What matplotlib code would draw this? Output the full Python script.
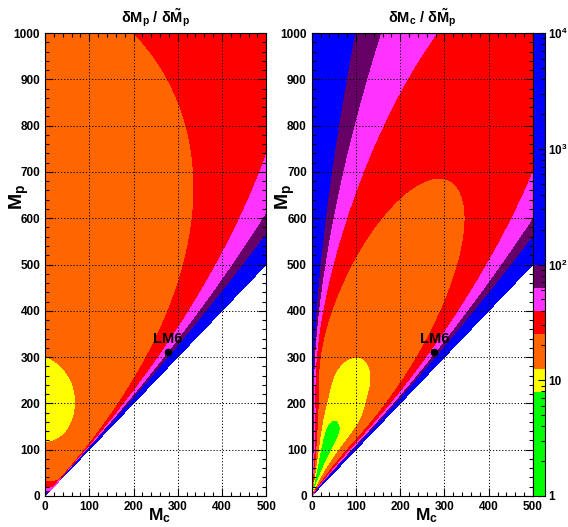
import numpy as np
import matplotlib
matplotlib.use("Agg")
import matplotlib.pyplot as plt
from matplotlib.ticker import MultipleLocator, LogLocator, NullFormatter, FixedLocator

plt.rcParams["font.family"] = ["Liberation Sans", "DejaVu Sans"]
plt.rcParams["font.weight"] = "bold"
plt.rcParams["mathtext.fontset"] = "custom"
plt.rcParams["mathtext.rm"] = "Liberation Sans:bold"
plt.rcParams["mathtext.bf"] = "Liberation Sans:bold"
plt.rcParams["mathtext.it"] = "Liberation Sans:bold"

# colour bands
levels = [1, 7.9, 12.6, 25, 40, 63, 100, 1e4]
band_colors = ["#00ff00", "#ffff00", "#ff6600", "#ff0000", "#ff33ff", "#660066", "#0000ff"]

mc_range = [0, 500]
mp_range = [0, 1000]
lm6 = [277, 311]      # (Mc, Mp) of the LM6 point
titles = [r"$\delta\mathbf{M}_\mathbf{p}$ / $\delta\tilde{\mathbf{M}}_\mathbf{p}$",
          r"$\delta\mathbf{M}_\mathbf{c}$ / $\delta\tilde{\mathbf{M}}_\mathbf{p}$"]
cb_ticks = [1, 10, 100, 1000, 10000]
cb_labels = ["1", "10", r"$10^2$", r"$10^3$", r"$10^4$"]

# shape of the error ratios, tuned by eye to the drawn contours (w = Mc / (Mp - Mc))
# left:  a/Mp + b + c*Mp  +  k*Mp**q * w**p
left_base = [586.8, 5.55, 0.01695]
left_diag = [0.0029, 1.2, 1.3]
# right: b + c*Mp - dip*exp(-(Mp/s)**n)  + diagonal, knee, edge and wall terms
right_base = [6.4, 0.0136, 4.0, 175.0, 6.0]
right_diag = [0.002676, 1.2, 1.3]            # k*Mp**q * w**p
right_knee = [13.9, 125.5, 1.5, 0.8]         # k*exp(-(Mp/s)**2) * w**a / (1+w)**b
right_edge = [1.704, 0.3, 900.0, 1.2]        # k*Mp**q*exp(-s/Mp) * w**-p
right_wall = [64.0, 220.0, 0.085, 0.015]     # k*exp(-(Mp/s)**3)*exp(-w/w1)*(1+w2/w)


def ratio_left(mc, mp):
    with np.errstate(divide="ignore", invalid="ignore"):
        w = mc / (mp - mc)
        a, b, c = left_base
        k, q, p = left_diag
        val = a / mp + b + c * mp + k * mp ** q * w ** p
    return np.where(mc < mp, np.clip(val, 1.0, 9999.0), np.nan)


def ratio_right(mc, mp):
    with np.errstate(divide="ignore", invalid="ignore", over="ignore"):
        w = mc / (mp - mc)
        b, c, dip, s, n = right_base
        val = b + c * mp - dip * np.exp(-(mp / s) ** n)
        k, q, p = right_diag
        val = val + k * mp ** q * w ** p
        k, s, a, e = right_knee
        val = val + k * np.exp(-(mp / s) ** 2) * w ** a / (1 + w) ** e
        k, q, s, p = right_edge
        val = val + k * mp ** q * np.exp(-s / mp) * w ** (-p)
        k, s, w1, w2 = right_wall
        val = val + k * np.exp(-(mp / s) ** 3) * np.exp(-w / w1) * (1 + w2 / w)
    return np.where(mc < mp, np.clip(val, 1.0, 9999.0), np.nan)


mc = np.linspace(0.25, 500, 800)
mp = np.linspace(0.25, 1000, 1600)
MC, MP = np.meshgrid(mc, mp)

W, H = 568, 527
fig = plt.figure(figsize=(W / 100, H / 100), dpi=100)
panels = [
    (45, ratio_left(MC, MP), titles[0]),
    (311.7, ratio_right(MC, MP), titles[1]),
]
ax_w, ax_top, ax_bot = 221.3, 33, 496

for x0, Z, title in panels:
    ax = fig.add_axes([x0 / W, 1 - ax_bot / H, ax_w / W, (ax_bot - ax_top) / H])
    ax.contourf(MC, MP, Z, levels=levels, colors=band_colors)
    ax.set_xlim(mc_range)
    ax.set_ylim(mp_range)
    ax.xaxis.set_major_locator(MultipleLocator(100))
    ax.xaxis.set_minor_locator(MultipleLocator(20))
    ax.yaxis.set_major_locator(MultipleLocator(100))
    ax.yaxis.set_minor_locator(MultipleLocator(20))
    ax.tick_params(which="both", direction="in", top=True, right=True, labelsize=8.5)
    ax.tick_params(which="major", length=6, width=0.8)
    ax.tick_params(which="minor", length=3, width=0.8)
    ax.set_axisbelow(False)
    ax.grid(True, which="major", color="black", linestyle=(0, (1.2, 2)), linewidth=0.7)
    for sp in ax.spines.values():
        sp.set_linewidth(0.8)
    ax.plot(lm6[0], lm6[1], "o", color="black", ms=4.5, zorder=5)
    ax.text(lm6[0], lm6[1] + 14, "LM6", ha="center", va="bottom", fontsize=10.5,
            fontweight="bold", zorder=5)
    fig.text((x0 + ax_w / 2) / W, 1 - 18 / H, title, ha="center", va="center", fontsize=10.5)
    fig.text((x0 + ax_w / 2 + 4) / W, 1 - 506 / H, r"$\mathbf{M}_\mathbf{c}$",
             ha="center", va="top", fontsize=12.5)
    fig.text((x0 - 26) / W, 1 - 197 / H, r"$\mathbf{M}_\mathbf{p}$",
             ha="center", va="center", rotation=90, fontsize=14)

# palette
cax = fig.add_axes([533 / W, 1 - ax_bot / H, 12 / W, (ax_bot - ax_top) / H])
cax.set_yscale("log")
cax.set_ylim(levels[0], levels[-1])
cax.set_xlim(0, 1)
for lo, hi, c in zip(levels[:-1], levels[1:], band_colors):
    cax.bar(0.5, hi - lo, bottom=lo, width=1.0, color=c, linewidth=0)
cax.set_xticks([])
cax.yaxis.tick_right()
cax.yaxis.set_major_locator(FixedLocator(cb_ticks))
cax.set_yticklabels(cb_labels)
cax.yaxis.set_minor_locator(LogLocator(base=10, subs=np.arange(2, 10)))
cax.yaxis.set_minor_formatter(NullFormatter())
cax.tick_params(which="both", direction="in", labelsize=8.5, pad=2)
cax.tick_params(which="major", length=5, width=0.8)
cax.tick_params(which="minor", length=3, width=0.8)
for sp in cax.spines.values():
    sp.set_linewidth(0.8)

fig.savefig("out.png", dpi=100)
